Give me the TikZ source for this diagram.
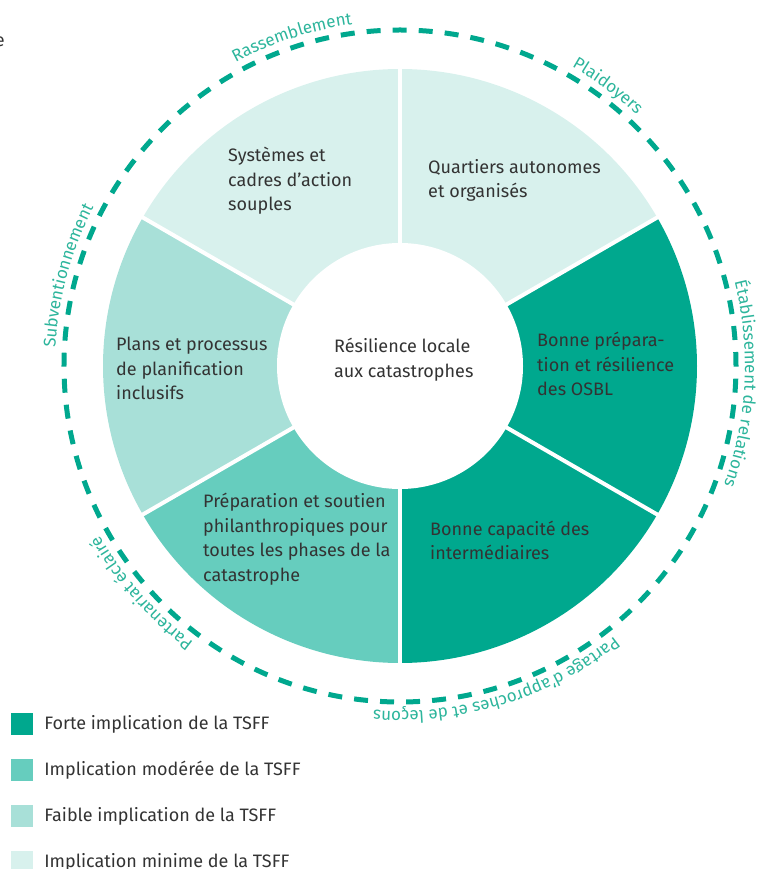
\documentclass[tikz,border=0pt]{standalone}
\usepackage{fontspec}
\setmainfont{Fira Sans}
\usepackage{tikz}
\usetikzlibrary{positioning,decorations.text}

\definecolor{forte}{HTML}{00A88E}
\definecolor{moderee}{HTML}{66CDBE}
\definecolor{faible}{HTML}{A8E0D8}
\definecolor{minime}{HTML}{D8F1ED}
\definecolor{ringtxt}{HTML}{2DB59C}
\definecolor{txt}{HTML}{333333}

\newcommand{\ringfont}{\fontsize{17}{19}\selectfont}

\tikzset{
  seglabel/.style={anchor=west, align=left, inner sep=0pt, text=txt, font=\fontsize{18}{24.5}\selectfont},
  legbox/.style={minimum size=22pt, inner sep=0pt},
  leglabel/.style={anchor=west, inner sep=0pt, text=txt, font=\fontsize{18}{20}\selectfont},
  ringlabel/.style={decorate, decoration={text along path, text align=center, text color=ringtxt, text={#1}}},
}

\begin{document}
\begin{tikzpicture}[x=1pt,y=1pt]
    \useasboundingbox (-400,-503) rectangle (368,366);

    % Draw wheel sectors
    \foreach \a/\b/\c in {30/90/minime, 90/150/minime, 150/210/faible, 210/270/moderee, 270/330/forte, -30/30/forte}
        \fill[\c] (0,0) -- (\a:297) arc[start angle=\a, end angle=\b, radius=297pt] -- cycle;
    \foreach \a in {30,90,...,330}
        \draw[white, line width=4pt] (0,0) -- (\a:300);
    \node[circle, fill=white, minimum size=246pt, inner sep=0pt] (hub) at (0,0) {};

    % Dashed ring
    \draw[forte, line width=5pt, dash pattern=on 14pt off 12.06pt] (0,0) circle[radius=336pt];

    % Ring labels (clockwise)
    \path[ringlabel={|\ringfont|Rassemblement}] (138.2:345) arc[start angle=138.2, end angle=78.2, radius=345pt];
    \path[ringlabel={|\ringfont|Plaidoyers}] (83.4:345) arc[start angle=83.4, end angle=23.4, radius=345pt];
    \path[ringlabel={|\ringfont|Établissement de relations}] (42:345) arc[start angle=42, end angle=-48, radius=345pt];
    \path[ringlabel={|\ringfont|Partage d’approches et de leçons}] (-28:345) arc[start angle=-28, end angle=-118, radius=345pt];
    \path[ringlabel={|\ringfont|Partenariat éclairé}] (251.3:345) arc[start angle=251.3, end angle=191.3, radius=345pt];
    \path[ringlabel={|\ringfont|Subventionnement}] (194.8:345) arc[start angle=194.8, end angle=134.8, radius=345pt];

    % Sector labels
    \node[seglabel] (centre) at (-66,6.5) {Résilience locale\\aux catastrophes};
    \node[seglabel] (quartiers) at (28,185.5) {Quartiers autonomes\\et organisés};
    \node[seglabel] (systemes) at (-172,185) {Systèmes et\\cadres d’action\\souples};
    \node[seglabel] (plans) at (-284,-2.5) {Plans et processus\\de planification\\inclusifs};
    \node[seglabel] (philan) at (-197,-173) {Préparation et soutien\\philanthropiques pour\\toutes les phases de la\\catastrophe};
    \node[seglabel] (capacite) at (30,-174.5) {Bonne capacité des\\intermédiaires};
    \node[seglabel] (osbl) at (137,2) {Bonne prépara-\\tion et résilience\\des OSBL};

    % Cut-off letter
    \node[leglabel, anchor=east] (cut) at (-395,324) {e};

    % Legend
    \node[legbox, fill=forte] (k1) at (-378,-358) {};
    \node[legbox, fill=moderee] (k2) at (-378,-404) {};
    \node[legbox, fill=faible] (k3) at (-378,-450) {};
    \node[legbox, fill=minime] (k4) at (-378,-496) {};
    \node[leglabel, right=11pt of k1] (l1) {Forte implication de la TSFF};
    \node[leglabel, right=11pt of k2] (l2) {Implication modérée de la TSFF};
    \node[leglabel, right=11pt of k3] (l3) {Faible implication de la TSFF};
    \node[leglabel, right=11pt of k4] (l4) {Implication minime de la TSFF};
\end{tikzpicture}
\end{document}
